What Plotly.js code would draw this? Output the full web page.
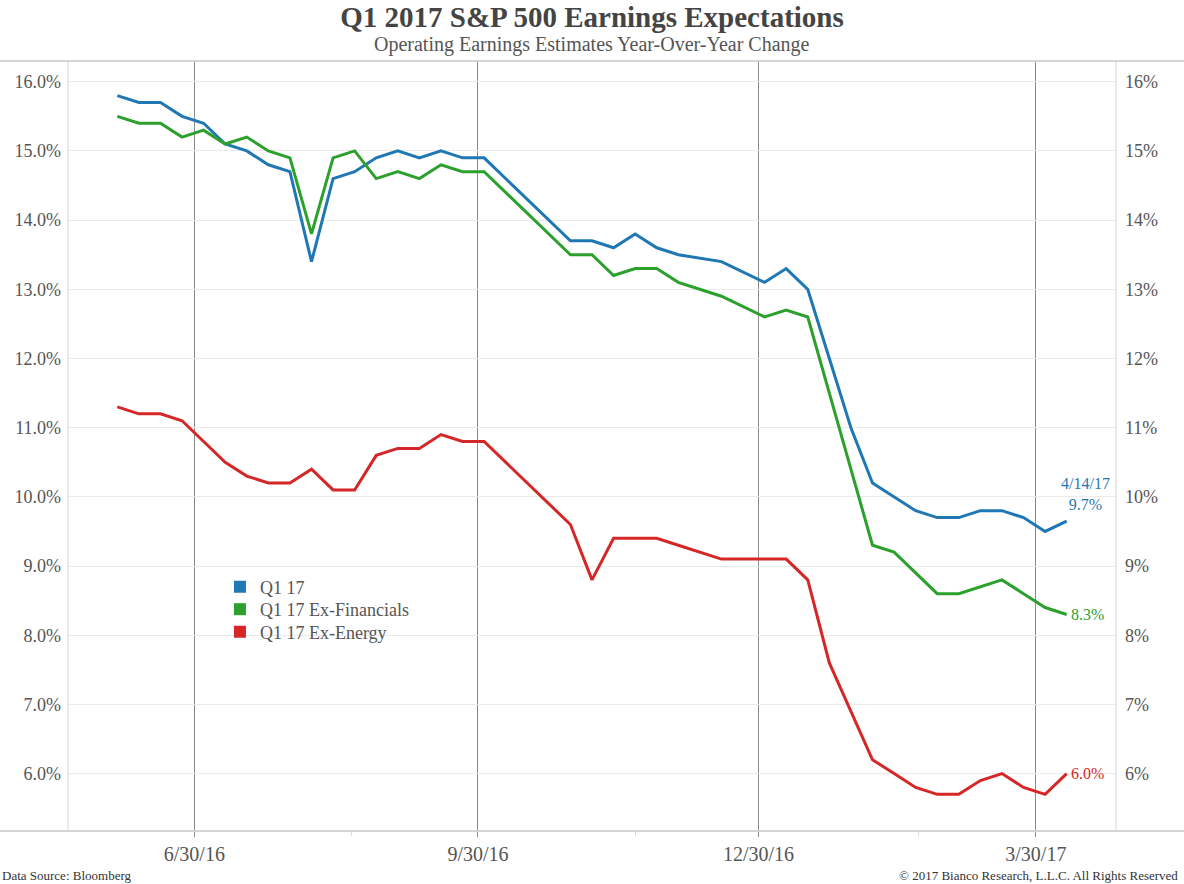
<!DOCTYPE html>
<html>
<head>
<meta charset="utf-8">
<script src="https://cdn.plot.ly/plotly-3.0.1.min.js"></script>
<style>html,body{margin:0;padding:0;background:#fff;}#chart{width:1184px;height:884px;}</style>
</head>
<body>
<div id="chart"></div>
<script>
// Weekly observation dates (Fridays)
const dates = [
  '2016-06-10','2016-06-17','2016-06-24','2016-07-01','2016-07-08','2016-07-15','2016-07-22','2016-07-29',
  '2016-08-05','2016-08-12','2016-08-19','2016-08-26','2016-09-02','2016-09-09','2016-09-16','2016-09-23',
  '2016-09-30','2016-10-07',
  '2016-11-04','2016-11-11','2016-11-18','2016-11-25','2016-12-02','2016-12-09',
  '2016-12-23','2017-01-06',
  '2017-01-13','2017-01-20','2017-01-27','2017-02-03','2017-02-10','2017-02-17','2017-02-24','2017-03-03',
  '2017-03-10','2017-03-17','2017-03-24','2017-03-31','2017-04-07','2017-04-14'
];
const q1_17 = [
  15.8,15.7,15.7,15.5,15.4,15.1,15.0,14.8,14.7,13.4,14.6,14.7,14.9,15.0,14.9,15.0,14.9,14.9,
  13.7,13.7,13.6,13.8,13.6,13.5,
  13.4,13.1,
  13.3,13.0,12.0,11.0,10.2,10.0,9.8,9.7,9.7,9.8,9.8,9.7,9.5,9.65
];
const q1_17_exFin = [
  15.5,15.4,15.4,15.2,15.3,15.1,15.2,15.0,14.9,13.8,14.9,15.0,14.6,14.7,14.6,14.8,14.7,14.7,
  13.5,13.5,13.2,13.3,13.3,13.1,
  12.9,12.6,
  12.7,12.6,11.5,10.4,9.3,9.2,8.9,8.6,8.6,8.7,8.8,8.6,8.4,8.3
];
const q1_17_exEnergy = [
  11.3,11.2,11.2,11.1,10.8,10.5,10.3,10.2,10.2,10.4,10.1,10.1,10.6,10.7,10.7,10.9,10.8,10.8,
  9.6,8.8,9.4,9.4,9.4,9.3,
  9.1,9.1,
  9.1,8.8,7.6,6.9,6.2,6.0,5.8,5.7,5.7,5.9,6.0,5.8,5.7,6.0
];
const seriesNames = ['Q1 17','Q1 17 Ex-Financials','Q1 17 Ex-Energy'];
const seriesColors = ['#1f77b4','#2ca02c','#d62728'];
const quarterTickVals = ['2016-07-05','2016-10-05','2017-01-04','2017-04-04'];
const quarterTickText = ['6/30/16','9/30/16','12/30/16','3/30/17'];
const minorTickVals = ['2016-08-25','2016-11-25','2017-02-25'];
const yTickVals = [6,7,8,9,10,11,12,13,14,15,16];
const yTickTextLeft = ['6.0%','7.0%','8.0%','9.0%','10.0%','11.0%','12.0%','13.0%','14.0%','15.0%','16.0%'];
const yTickTextRight = ['6%','7%','8%','9%','10%','11%','12%','13%','14%','15%','16%'];

const serif = 'Liberation Serif, DejaVu Serif, serif';
const allSeries = [q1_17, q1_17_exFin, q1_17_exEnergy];
const legendIds = ['legend', 'legend2', 'legend3'];

const traces = [];
allSeries.forEach((ys, i) => {
  traces.push({
    x: dates, y: ys, type: 'scatter', mode: 'lines',
    line: {color: seriesColors[i], width: 3},
    showlegend: false, hoverinfo: 'x+y', name: seriesNames[i]
  });
});
allSeries.forEach((ys, i) => {
  traces.push({
    x: [null], y: [null], type: 'scatter', mode: 'markers', yaxis: 'y2',
    marker: {symbol: 'square', size: 12, color: seriesColors[i]},
    name: seriesNames[i], showlegend: true, legend: legendIds[i]
  });
});

function legendBox(yPx) {
  return {
    x: 0.145, y: (831 - yPx) / 770, xanchor: 'left', yanchor: 'middle',
    bgcolor: 'rgba(0,0,0,0)', font: {family: serif, size: 18, color: '#555'},
    itemwidth: 30, borderwidth: 0
  };
}

const last = dates.length - 1;
const layout = {
  width: 1184, height: 884,
  margin: {l: 68, r: 68, t: 61, b: 53},
  paper_bgcolor: '#fff', plot_bgcolor: '#fff',
  font: {family: serif, color: '#555'},
  title: {
    text: '<b>Q1 2017 S&P 500 Earnings Expectations</b>',
    font: {family: serif, size: 29, color: '#444'},
    x: 0.5, xanchor: 'center', y: 1 - 17/884, yref: 'container', yanchor: 'middle'
  },
  xaxis: {
    type: 'date', range: ['2016-05-25', '2017-04-30'],
    tickmode: 'array', tickvals: quarterTickVals, ticktext: quarterTickText,
    showgrid: true, gridcolor: '#8a8a8a', gridwidth: 1,
    ticks: 'outside', ticklen: 5, tickcolor: '#8a8a8a',
    minor: {tickmode: 'array', tickvals: minorTickVals, ticks: 'outside', ticklen: 4, tickcolor: '#dddddd', showgrid: false},
    showline: false, zeroline: false,
    tickfont: {family: serif, size: 20, color: '#555'}
  },
  yaxis: {
    range: [5.17, 16.3], tickmode: 'array', tickvals: yTickVals, ticktext: yTickTextLeft,
    showgrid: true, gridcolor: '#ebebeb', gridwidth: 1,
    zeroline: false, showline: false, ticks: '',
    ticklabelstandoff: 6,
    tickfont: {family: serif, size: 18, color: '#555'}
  },
  yaxis2: {
    range: [5.17, 16.3], overlaying: 'y', side: 'right', tickmode: 'array', tickvals: yTickVals, ticktext: yTickTextRight,
    showgrid: false, zeroline: false, showline: false, ticks: '',
    ticklabelstandoff: 8,
    tickfont: {family: serif, size: 18, color: '#555'}
  },
  legend: legendBox(587),
  legend2: legendBox(609.5),
  legend3: legendBox(632),
  shapes: [
    {type: 'line', xref: 'paper', yref: 'paper', x0: -68/1048, x1: 1 + 68/1048, y0: 1, y1: 1, line: {color: '#d4d4d4', width: 2}},
    {type: 'line', xref: 'paper', yref: 'paper', x0: -68/1048, x1: 1 + 68/1048, y0: 0, y1: 0, line: {color: '#d4d4d4', width: 2}},
    {type: 'line', xref: 'paper', yref: 'paper', x0: 0, x1: 0, y0: 0, y1: 1, line: {color: '#d4d4d4', width: 1}},
    {type: 'line', xref: 'paper', yref: 'paper', x0: 1, x1: 1, y0: 0, y1: 1, line: {color: '#d4d4d4', width: 1}}
  ],
  annotations: [
    {text: 'Operating Earnings Estimates Year-Over-Year Change', xref: 'paper', yref: 'paper',
     x: 0.5, y: 1 + 16/770, xanchor: 'center', yanchor: 'middle', showarrow: false,
     font: {family: serif, size: 20, color: '#555'}},
    {text: '4/14/17<br>' + q1_17[last].toFixed(1) + '%',
     x: dates[last], y: q1_17[last], xanchor: 'center', yanchor: 'bottom', xshift: 19, yshift: 6,
     showarrow: false, align: 'center', font: {family: serif, size: 16, color: seriesColors[0]}},
    {text: q1_17_exFin[last].toFixed(1) + '%', x: dates[last], y: q1_17_exFin[last], xanchor: 'left', yanchor: 'middle',
     xshift: 2, showarrow: false, font: {family: serif, size: 16, color: seriesColors[1]}},
    {text: q1_17_exEnergy[last].toFixed(1) + '%', x: dates[last], y: q1_17_exEnergy[last], xanchor: 'left', yanchor: 'middle',
     xshift: 2, showarrow: false, font: {family: serif, size: 16, color: seriesColors[2]}},
    {text: 'Data Source: Bloomberg', xref: 'paper', yref: 'paper', x: -68/1048, y: -44/770,
     xanchor: 'left', yanchor: 'middle', showarrow: false, font: {family: serif, size: 13, color: '#333'}},
    {text: '© 2017 Bianco Research, L.L.C. All Rights Reserved', xref: 'paper', yref: 'paper', x: 1 + 64/1048, y: -44/770,
     xanchor: 'right', yanchor: 'middle', showarrow: false, font: {family: serif, size: 13, color: '#333'}}
  ]
};

Plotly.newPlot('chart', traces, layout, {displayModeBar: false, responsive: false});
</script>
</body>
</html>
